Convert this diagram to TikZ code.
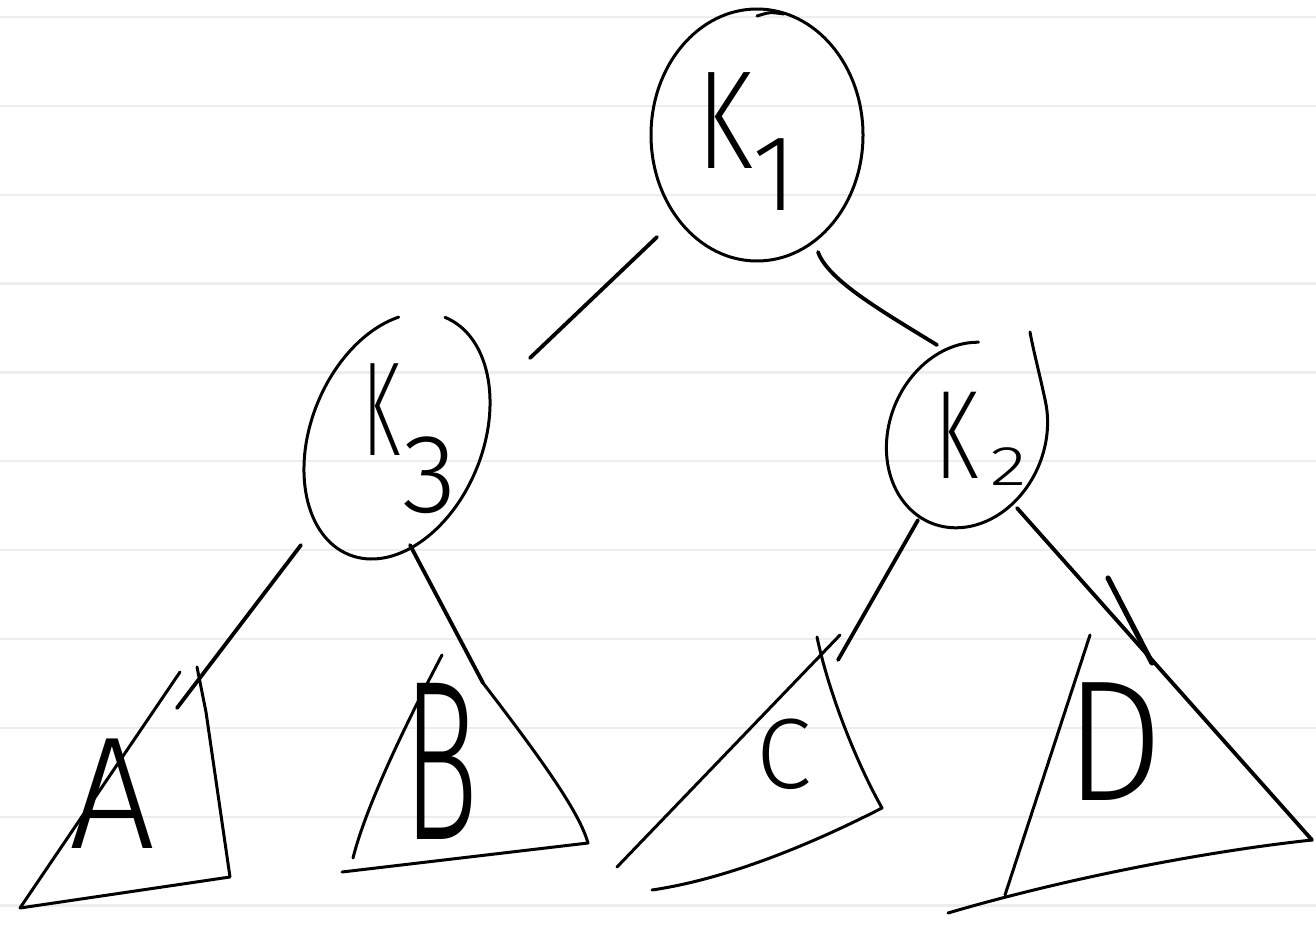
\documentclass[tikz,border=0pt]{standalone}
\usepackage{fontspec}
\newfontfamily\hand{Fira Sans Light}
\usetikzlibrary{shapes.geometric}
\begin{document}
\begin{tikzpicture}[x=0.5pt,y=-0.5pt, line cap=round, line join=round,
  ink/.style={draw=black, line width=1.5pt},
  edge/.style={draw=black, line width=1.9pt},
  tick/.style={draw=black, line width=2.6pt},
  paper/.style={draw=black!7, line width=1.1pt},
  lbl/.style={inner sep=0pt, font=\hand}]
\useasboundingbox (0,0) rectangle (1316,926);
\fill[white] (0,0) rectangle (1316,926);
\foreach \k in {0,...,10} \draw[paper] (0,{17+88.85*\k}) -- (1316,{17+88.85*\k});

% ---- tree nodes (ellipses) ----
\node[ellipse, ink, minimum width=106pt, minimum height=126pt, inner sep=0pt] (K1) at (757,135) {};
\draw[ink] (757,16) .. controls (770,12) .. (784,14);
\node[ellipse, minimum width=86pt, minimum height=128pt, rotate=-22, inner sep=0pt] (K3) at (397,436) {};
\draw[ink, shift={(K3.center)}, rotate=-22] (-90:86 and 128) arc[start angle=-90, end angle=240, x radius=86, y radius=128];
\node[ellipse, minimum width=78pt, minimum height=95pt, rotate=-22, inner sep=0pt] (K2) at (967,435) {};
\draw[ink, shift={(K2.center)}, rotate=-22] (-108:78 and 95) arc[start angle=-108, end angle=-400, x radius=78, y radius=95]
  .. controls (45,-83) and (30,-103) .. (19.8,-119.1);

% ---- node labels ----
\node[lbl, anchor=base west, font=\hand\fontsize{70}{70}\selectfont] (K1t) at (697,168)
  {\scalebox{0.72}[1]{K}\raisebox{-21pt}{\fontsize{54}{54}\selectfont 1}};
\node[lbl, anchor=base west, font=\hand\fontsize{67}{67}\selectfont] (K3t) at (363,455)
  {\scalebox{0.5}[1]{K}\hspace{1pt}\raisebox{-28.5pt}{\fontsize{56}{56}\selectfont 3}};
\node[lbl, anchor=base west, font=\hand\fontsize{63}{63}\selectfont] (K2t) at (935,478)
  {\scalebox{0.62}[1]{K}\hspace{6pt}\raisebox{-3.5pt}{\fontsize{28}{28}\selectfont\scalebox{1.35}[1]{2}}};

% ---- subtree labels ----
\node[lbl, font=\hand\fontsize{80}{80}\selectfont] (A) at (112,794) {\scalebox{0.95}[1]{A}};
\node[lbl, font=\hand\fontsize{114}{114}\selectfont] (B) at (441,761) {\scalebox{0.55}[1]{B}};
\node[lbl, font=\hand\fontsize{50}{50}\selectfont] (C) at (784,754) {C};
\node[lbl, font=\hand\fontsize{86}{86}\selectfont] (D) at (1114,742) {\scalebox{0.9}[1]{D}};

% ---- connector ends and triangle corners ----
\coordinate (K1l) at (657,237);  \coordinate (K3u) at (530,358);
\coordinate (K1r) at (818,252);  \coordinate (K2u) at (937,345);
\coordinate (K3l) at (301,545);  \coordinate (Aend) at (177,708);
\coordinate (K3r) at (410,545);  \coordinate (Btop) at (483,683);
\coordinate (K2l) at (918,520);  \coordinate (Cend) at (838,660);
\coordinate (K2r) at (1017,508); \coordinate (Dr) at (1312,840);

\coordinate (Aa) at (197,667); \coordinate (Alt) at (180,672);
\coordinate (Al) at (20,908);  \coordinate (Ar) at (230,877);
\coordinate (Bl) at (442,655); \coordinate (Bbl) at (353,858);
\coordinate (Bb) at (342,872); \coordinate (Br) at (588,843);
\coordinate (Ct) at (840,635); \coordinate (Cl) at (617,867);
\coordinate (Ctr) at (817,637); \coordinate (Cr) at (882,808); \coordinate (Cb) at (652,890);
\coordinate (Dt) at (1090,635); \coordinate (Dl) at (1005,895); \coordinate (Db) at (948,913);
\coordinate (Dk1) at (1108,578); \coordinate (Dk2) at (1152,663);

% ---- connectors ----
\draw[edge] (K1l) -- (K3u);
\draw[edge] (K1r) .. controls (828,280) and (880,310) .. (K2u);
\draw[edge] (K3l) -- (Aend);
\draw[edge] (K3r) -- (Btop);
\draw[edge] (K2l) -- (Cend);
\draw[edge] (K2r) -- (Dr);

% ---- subtree triangles ----
\draw[ink] (Al) -- (Alt);
\draw[ink] (Aa) -- (206,712) -- (Ar) -- (Al);
\draw[ink] (Btop) .. controls (550,770) and (580,815) .. (Br) -- (Bb);
\draw[ink] (Bl) .. controls (400,735) and (365,810) .. (Bbl);
\draw[ink] (Ct) -- (Cl);
\draw[ink] (Ctr) .. controls (828,690) and (855,760) .. (Cr) .. controls (800,850) and (720,880) .. (Cb);
\draw[ink] (Dt) -- (Dl);
\draw[ink] (Dr) .. controls (1200,852) and (1060,880) .. (Db);
\draw[tick] (Dk1) -- (Dk2);
\end{tikzpicture}
\end{document}
